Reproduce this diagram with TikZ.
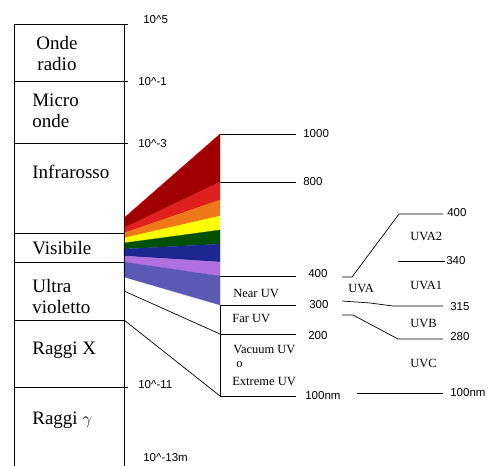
\documentclass[tikz,border=0pt]{standalone}
\usepackage{fontspec}
\setmainfont{Liberation Serif}
\newfontfamily\numfont{Liberation Sans}

\definecolor{bandIR}{HTML}{A00000}
\definecolor{bandR}{HTML}{E02020}
\definecolor{bandO}{HTML}{F07818}
\definecolor{bandY}{HTML}{FFFF00}
\definecolor{bandG}{HTML}{005000}
\definecolor{bandB}{HTML}{1C2890}
\definecolor{bandV}{HTML}{B070E0}
\definecolor{bandUV}{HTML}{5A5AB4}

\tikzset{
  region/.style={anchor=west, inner sep=0pt, align=left,
    font=\fontsize{19}{21}\selectfont},
  scalenum/.style={anchor=west, inner sep=0pt,
    font=\numfont\fontsize{11.5}{13}\selectfont},
  uvname/.style={anchor=west, inner sep=0pt,
    font=\fontsize{12.5}{14}\selectfont},
}

\begin{document}
\begin{tikzpicture}[x=1pt, y=-1pt, line width=0.7pt]
  \useasboundingbox (0,0) rectangle (493,466);

  % spectrum fan
  \foreach \c/\la/\lb/\ra/\rb in {bandIR/218/228/134/182, bandR/228/233/182/200,
      bandO/233/238/200/216, bandY/238/243/216/230, bandG/243/249/230/244,
      bandB/249/256/244/262, bandV/256/262/262/276, bandUV/262/277/276/305}
    \fill[\c, draw=\c, line width=0.2pt] (124,\la) -- (220,\ra) -- (220,\rb) -- (124,\lb) -- cycle;

  % left column
  \coordinate (top) at (14,24);
  \coordinate (uvtop) at (124,291);
  \coordinate (uvbot) at (124,320);
  \draw (14,466) -- (top) -- (128,24);
  \draw (124,24) -- (124,466);
  \foreach \y/\e in {81/128, 143/128, 233/124, 262/124, 320/124, 387/128}
    \draw (14,\y) -- (\e,\y);

  \node (radio) [region, anchor=center, align=center] at (57,54) {Onde\\ radio};
  \node (micro) [region] at (32,111) {Micro\\onde};
  \node (infra) [region] at (32,172) {Infrarosso};
  \node (vis) [region] at (32,248) {Visibile};
  \node (ultra) [region] at (32,296) {Ultra\\violetto};
  \node (xray) [region] at (32,350) {Raggi X};
  \node (gamma) [region] at (32,420) {Raggi $\gamma$};

  \node (e5) [scalenum] at (143,20) {10\textasciicircum 5};
  \node (e1) [scalenum] at (138,82) {10\textasciicircum -1};
  \node (e3) [scalenum] at (138,144) {10\textasciicircum -3};
  \node (e11) [scalenum] at (138,385) {10\textasciicircum -11};
  \node (e13) [scalenum] at (143,458) {10\textasciicircum -13m};

  % nm scale
  \coordinate (nm200) at (220,334);
  \coordinate (nm100) at (220,396);
  \foreach \y in {134,182,276,305,334,396}
    \draw (220,\y) -- (296,\y);
  \draw (220,305) -- (nm100);
  \draw (uvtop) -- (nm200);
  \draw (uvbot) -- (nm100);

  \node (n1000) [scalenum] at (303,134) {1000};
  \node (n800) [scalenum] at (303,182) {800};
  \node (n400) [scalenum] at (308,274) {400};
  \node (n300) [scalenum] at (309,305) {300};
  \node (n200) [scalenum] at (308,336) {200};
  \node (n100) [scalenum] at (305,396) {100nm};

  \node (near) [uvname] at (233,293) {Near UV};
  \node (far) [uvname] at (232,318) {Far UV};
  \node (vac) [uvname] at (233,349) {Vacuum UV};
  \node (oo) [uvname] at (236,365) {o};
  \node (ext) [uvname] at (232,381) {Extreme UV};

  % UV bands
  \draw (342,277) -- (352,277) -- (399,214) -- (443,214);
  \draw (398,261) -- (445,261);
  \draw (342,301) -- (370,303) -- (393,306) -- (443,306);
  \draw (342,315) -- (353,315) -- (398,339) -- (443,339);
  \draw (357,393) -- (443,393);

  \node (uva) [uvname] at (348,288) {UVA};
  \node (uva2) [uvname] at (410,236) {UVA2};
  \node (uva1) [uvname] at (410,285) {UVA1};
  \node (uvb) [uvname] at (410,323) {UVB};
  \node (uvc) [uvname] at (410,363) {UVC};

  \node (r400) [scalenum] at (447,213) {400};
  \node (r340) [scalenum] at (446,261) {340};
  \node (r315) [scalenum] at (450,307) {315};
  \node (r280) [scalenum] at (450,337) {280};
  \node (r100) [scalenum] at (450,393) {100nm};
\end{tikzpicture}
\end{document}
